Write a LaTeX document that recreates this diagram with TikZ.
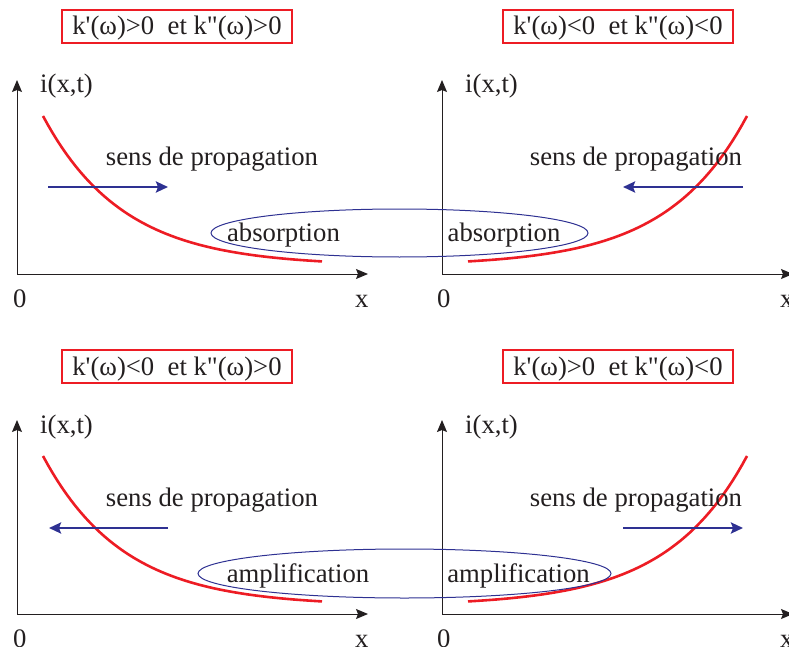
\documentclass[tikz,border=0pt]{standalone}
\usepackage{fontspec}
\setmainfont{Liberation Serif}[Ligatures=TeXOff]
\usetikzlibrary{arrows.meta,shapes.geometric}
\definecolor{cred}{HTML}{ED1C24}
\definecolor{cnavy}{HTML}{2E3192}
\definecolor{ctext}{HTML}{231F20}
\begin{document}
\begin{tikzpicture}[x=1pt,y=-1pt,
  every node/.style={font=\fontsize{26.7}{32}\selectfont, text=ctext, inner sep=0pt},
  condbox/.style={draw=cred, line width=1.2pt, minimum width=230pt, minimum height=33pt, text height=18pt, text depth=1pt},
  axis/.style={draw=ctext, line width=1pt, -{Stealth[length=12pt,width=10pt,inset=2pt]}},
  curve/.style={draw=cred, line width=2.6pt},
  prop/.style={draw=cnavy, line width=2.8pt, -{Stealth[length=12pt,width=11pt,inset=2pt]}},
  zone/.style={ellipse, draw=cnavy, line width=1pt, inner sep=0pt},
  lbl/.style={anchor=base west}]
\useasboundingbox (0,0) rectangle (789,647);

% ---------- top-left ----------
\node[condbox] (b1) at (177,26.5) {k'(ω)>0\ \ et k"(ω)>0};
\coordinate (o1) at (17,274);
\coordinate (y1) at (17,80);
\coordinate (x1) at (368,274);
\draw[axis] (o1) -- (y1);
\draw[axis] (o1) -- (x1);
\node[lbl] (i1) at (40,93) {i(x,t)};
\node[lbl] (z1) at (13,307) {0};
\node[lbl] (xl1) at (355,307) {x};
\draw[curve] plot[domain=43:322,samples=60] (\x,{266-150*exp(-(\x-43)/80)});
\node[anchor=base] (s1) at (212,166) {sens de propagation};
\coordinate (a1s) at (48,187);
\coordinate (a1e) at (168,187);
\draw[prop] (a1s) -- (a1e);

% ---------- top-right ----------
\node[condbox] (b2) at (618,26.5) {k'(ω)<0\ \ et k"(ω)<0};
\coordinate (o2) at (442,274);
\coordinate (y2) at (442,80);
\coordinate (x2) at (793,274);
\draw[axis] (o2) -- (y2);
\draw[axis] (o2) -- (x2);
\node[lbl] (i2) at (465,93) {i(x,t)};
\node[lbl] (z2) at (437,307) {0};
\node[lbl] (xl2) at (780,307) {x};
\draw[curve] plot[domain=468:747,samples=60] (\x,{266-150*exp(-(747-\x)/80)});
\node[anchor=base] (s2) at (636,166) {sens de propagation};
\coordinate (a2s) at (743,187);
\coordinate (a2e) at (623,187);
\draw[prop] (a2s) -- (a2e);

% absorption ellipse
\node[zone, minimum width=377pt, minimum height=48pt] (e1) at (399.5,233) {};
\node[anchor=base] (ab1) at (283.5,241) {absorption};
\node[anchor=base] (ab2) at (504,241) {absorption};

% ---------- bottom-left ----------
\node[condbox] (b3) at (177,366.5) {k'(ω)<0\ \ et k"(ω)>0};
\coordinate (o3) at (17,614);
\coordinate (y3) at (17,420);
\coordinate (x3) at (368,614);
\draw[axis] (o3) -- (y3);
\draw[axis] (o3) -- (x3);
\node[lbl] (i3) at (40,433) {i(x,t)};
\node[lbl] (z3) at (13,647) {0};
\node[lbl] (xl3) at (355,647) {x};
\draw[curve] plot[domain=43:322,samples=60] (\x,{606-150*exp(-(\x-43)/80)});
\node[anchor=base] (s3) at (212,506) {sens de propagation};
\coordinate (a3s) at (168,528);
\coordinate (a3e) at (49,528);
\draw[prop] (a3s) -- (a3e);

% ---------- bottom-right ----------
\node[condbox] (b4) at (618,366.5) {k'(ω)>0\ \ et k"(ω)<0};
\coordinate (o4) at (442,614);
\coordinate (y4) at (442,420);
\coordinate (x4) at (793,614);
\draw[axis] (o4) -- (y4);
\draw[axis] (o4) -- (x4);
\node[lbl] (i4) at (465,433) {i(x,t)};
\node[lbl] (z4) at (437,647) {0};
\node[lbl] (xl4) at (780,647) {x};
\draw[curve] plot[domain=468:747,samples=60] (\x,{606-150*exp(-(747-\x)/80)});
\node[anchor=base] (s4) at (636,506) {sens de propagation};
\coordinate (a4s) at (623,528);
\coordinate (a4e) at (743,528);
\draw[prop] (a4s) -- (a4e);

% amplification ellipse
\node[zone, minimum width=413pt, minimum height=49pt] (e2) at (404.5,573.5) {};
\node[anchor=base] (am1) at (298,582) {amplification};
\node[anchor=base] (am2) at (518.5,582) {amplification};
\end{tikzpicture}
\end{document}
